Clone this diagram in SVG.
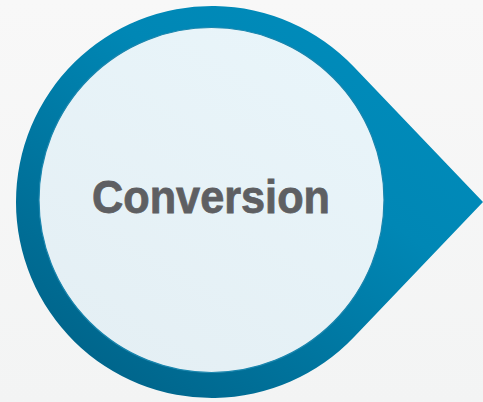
<svg xmlns="http://www.w3.org/2000/svg" width="483" height="402" viewBox="0 0 483 402">
  <defs>
    <linearGradient id="bg" x1="0" y1="0" x2="0" y2="1">
      <stop offset="0" stop-color="#F8F8F8"/>
      <stop offset="1" stop-color="#F3F4F4"/>
    </linearGradient>
    <linearGradient id="pin" x1="0.85" y1="0.2" x2="0.2" y2="0.95">
      <stop offset="0" stop-color="#008BBA"/>
      <stop offset="0.3" stop-color="#0087B5"/>
      <stop offset="1" stop-color="#00658B"/>
    </linearGradient>
    <linearGradient id="face" x1="0.8" y1="0" x2="0.2" y2="1">
      <stop offset="0" stop-color="#E9F5FA"/>
      <stop offset="1" stop-color="#E4EFF4"/>
    </linearGradient>
    <style>
      .label { font-family: "Liberation Sans", Arial, sans-serif; font-weight: bold; font-size: 46px; fill: #5E5F62; stroke: #5E5F62; stroke-width: 0.8px; }
    </style>
  </defs>
  <rect width="483" height="402" fill="url(#bg)"/>
  <g id="conversion">
    <!-- pin: circle with a pointed tip to the right -->
    <path d="M 353.8 66.7 L 483 202 L 353.8 337.3 A 196 196 0 1 1 353.8 66.7 Z" fill="url(#pin)"/>
    <circle cx="211.5" cy="200" r="172.5" fill="url(#face)" stroke="#1A86AE" stroke-width="1.2"/>
    <text class="label" x="211" y="213" text-anchor="middle" textLength="238" lengthAdjust="spacingAndGlyphs">Conversion</text>
  </g>
</svg>
